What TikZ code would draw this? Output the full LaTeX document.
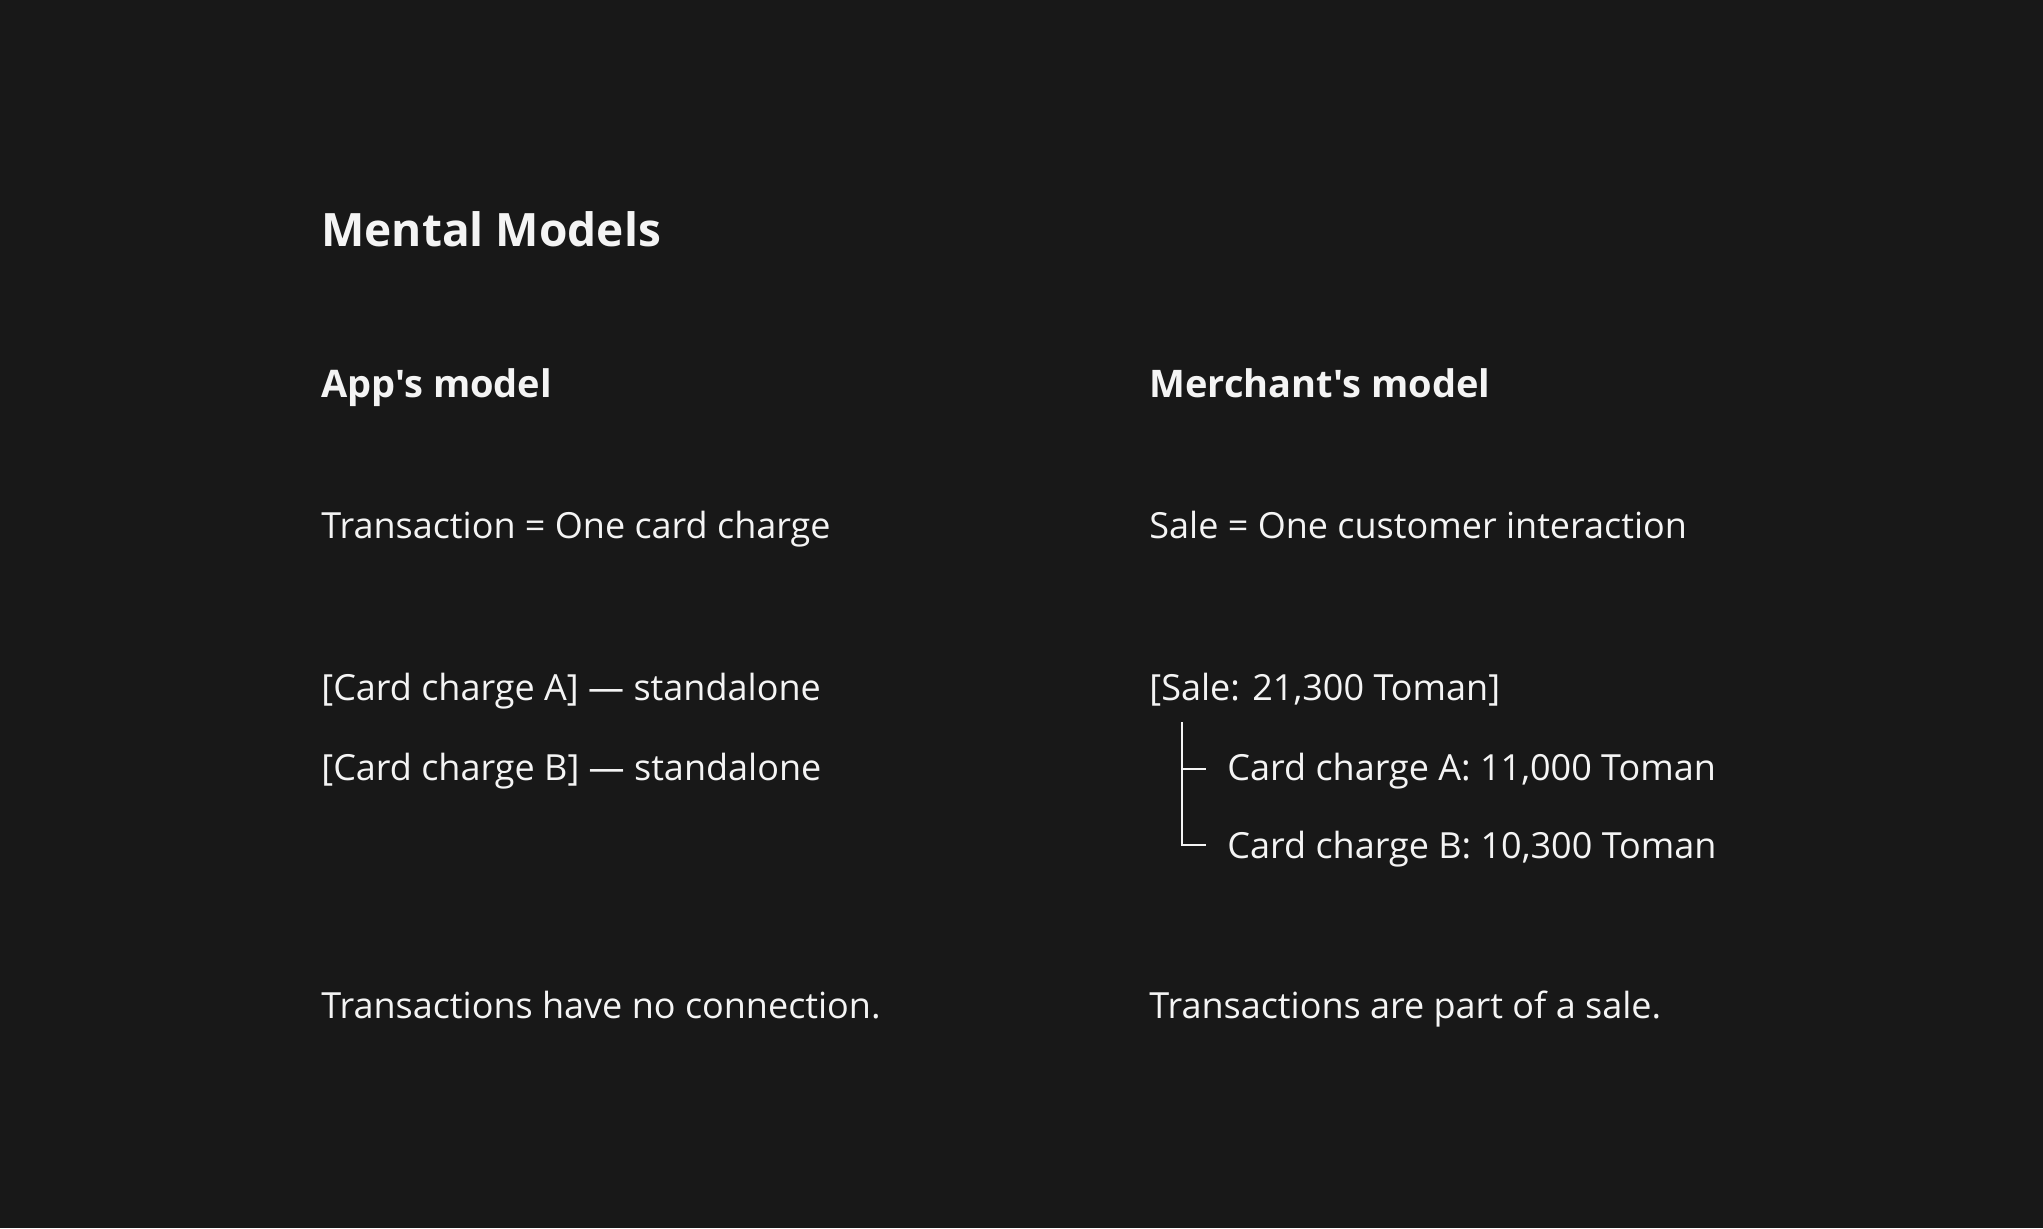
\documentclass[tikz,border=0pt]{standalone}
\usepackage{fontspec}
\usepackage{tikz}
\usetikzlibrary{positioning,calc}
\newfontfamily\uifont{Open Sans}
\definecolor{bgdark}{HTML}{181818}
\definecolor{inkwhite}{HTML}{F4F4F4}
\tikzset{
  titletext/.style={anchor=base west, inner sep=0pt, text=inkwhite, font=\uifont\bfseries\fontsize{23}{28}\selectfont},
  headtext/.style={anchor=base west, inner sep=0pt, text=inkwhite, font=\uifont\bfseries\fontsize{19}{24}\selectfont},
  bodytext/.style={anchor=base west, inner sep=0pt, text=inkwhite, font=\uifont\fontsize{18}{22}\selectfont},
  treeline/.style={draw=inkwhite, line width=1.4pt}
}
\begin{document}
\begin{tikzpicture}[x=0.5pt,y=-0.5pt]
% Background
\fill[bgdark] (0,0) rectangle (2043,1228);

% Title
\node[titletext] (title) at (321,246) {Mental Models};

% App side
\node[headtext] (apphead) at (321,397) {App's model};
\node[bodytext] (appdef) at (321,538) {Transaction = One card charge};
\node[bodytext] (appA) at (321,700) {[Card charge A] — standalone};
\node[bodytext] (appB) at (321,780) {[Card charge B] — standalone};
\node[bodytext] (appnote) at (321,1018) {Transactions have no connection.};

% Merchant side
\node[headtext] (merchhead) at (1149,397) {Merchant's model};
\node[bodytext] (merchdef) at (1149,538) {Sale = One customer interaction};
\node[bodytext] (sale) at (1149,700) {[Sale: 21,300 Toman]};
\node[bodytext] (chargeA) at (1227,780) {Card charge A: 11,000 Toman};
\node[bodytext] (chargeB) at (1227,858) {Card charge B: 10,300 Toman};
\node[bodytext] (merchnote) at (1149,1018) {Transactions are part of a sale.};

% Tree lines
\coordinate (trunk) at ([xshift=16.5pt,yshift=-11pt]sale.base west);
\coordinate (tickA) at ([xshift=-10.5pt,yshift=5.5pt]chargeA.base west);
\coordinate (tickB) at ([xshift=-10.5pt,yshift=6.5pt]chargeB.base west);
\draw[treeline] (trunk) |- (tickB);
\draw[treeline] (trunk |- tickA) -- (tickA);
\end{tikzpicture}
\end{document}
